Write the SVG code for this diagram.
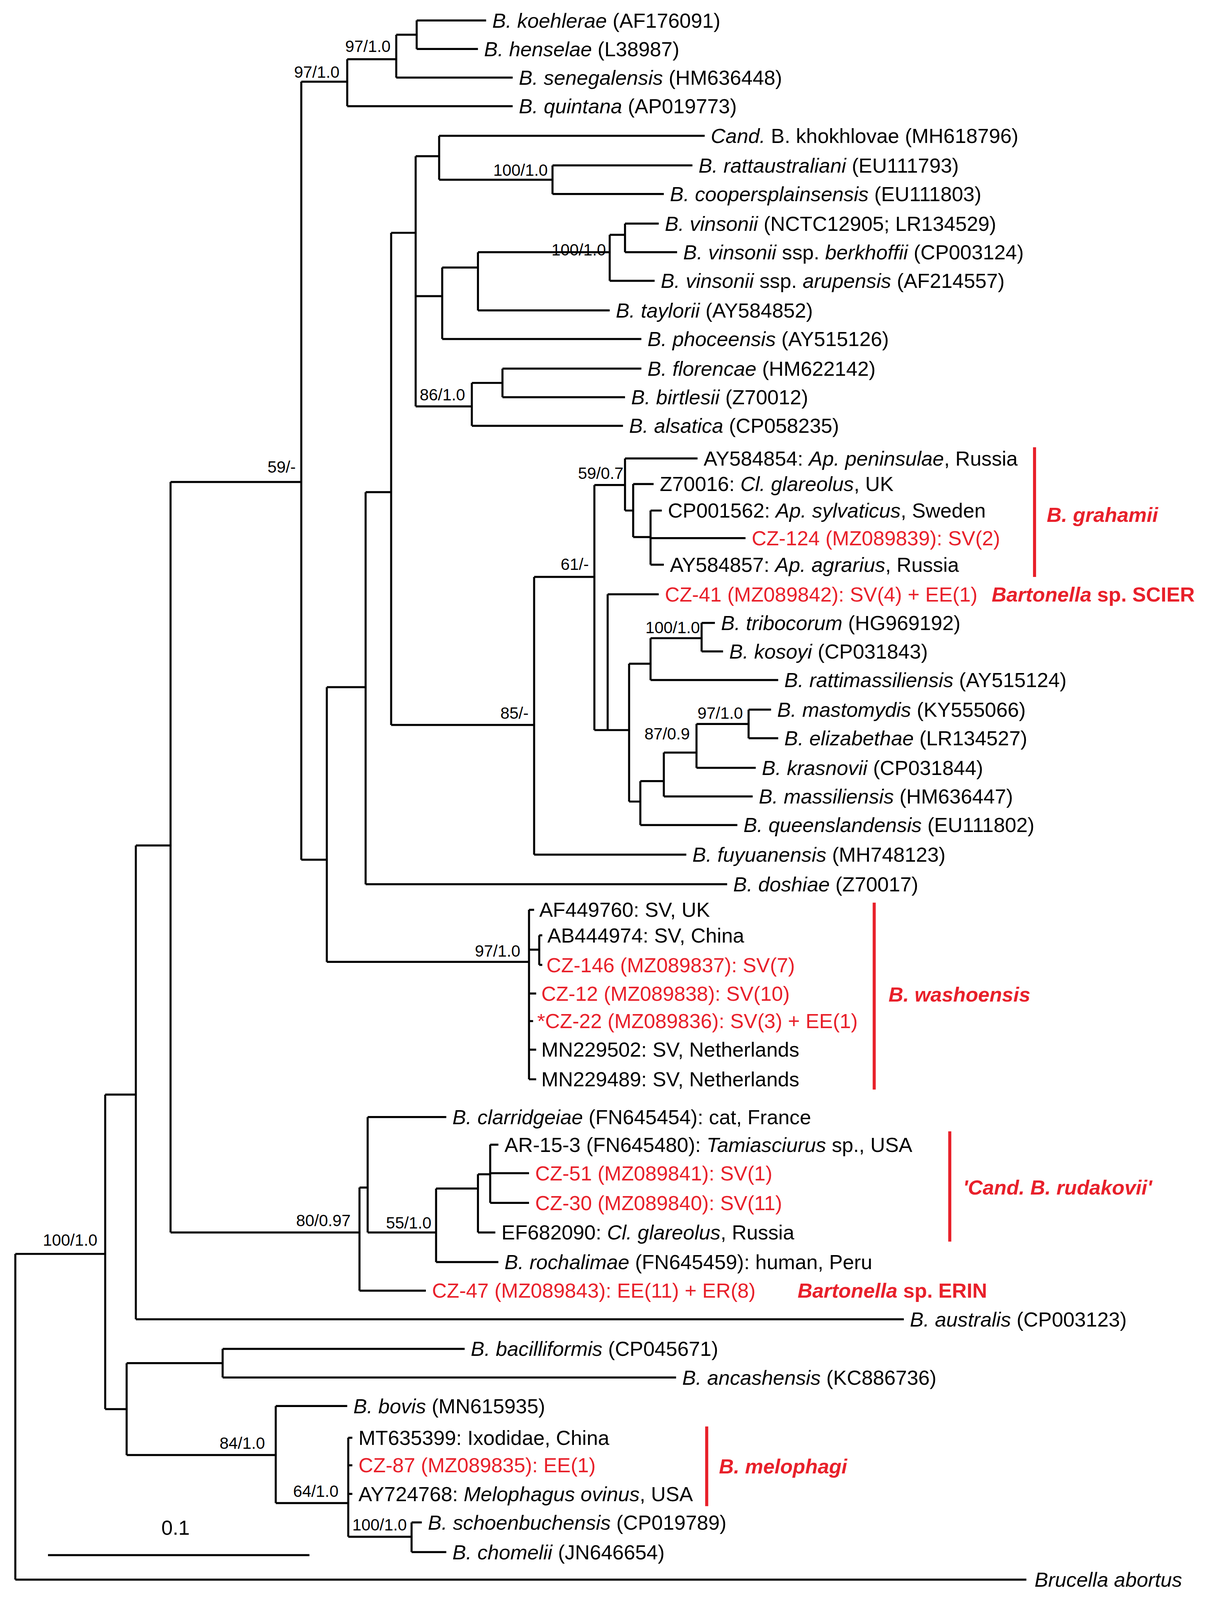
<svg xmlns="http://www.w3.org/2000/svg" width="3115" height="4130" viewBox="0 0 3115 4130">
<style>
text{font-family:"Liberation Sans",Arial,sans-serif;font-size:20px;fill:#000}
.i{font-style:italic}
.r{fill:#e8202a}
.b{font-weight:bold;fill:#e8202a}
.s{font-size:16px}
#conn path{stroke:#000;stroke-width:2;fill:none}
.bar{stroke:#e8202a;stroke-width:3}
</style>
<rect width="3115" height="4130" fill="#fff"/>
<g transform="scale(2.614)">
<g id="conn">
<path d="M15,1547H1005M15,1228V1547M15,1228H103M103,1072V1380M103,1072H133M103,1380H124
M133,828V1292M133,828H167M133,1292H885
M167,472V1207M167,472H295M167,1207H352
M295,80V842M295,80H340M295,842H320
M340,58V104M340,58H388M340,104H502M388,34V76M388,34H408M388,76H502M408,20V48M408,20H476M408,48H468
M320,673V942M320,673H358M320,942H518
M358,482V866M358,482H383M358,866H712
M383,228V710M383,228H407M383,710H523
M407,153V398M407,153H430M407,290H433M407,398H462
M430,133V176M430,133H690M430,176H541M541,162V190M541,162H678M541,190H650
M433,262V332M433,262H468M433,332H628M468,247V304M468,247H597M468,304H597M597,230V275M597,230H612M597,275H641M612,219V247M612,219H645M612,247H663
M462,375V417M462,375H492M462,417H610M492,361V389M492,361H628M492,389H612
M523,565V837M523,565H582M523,837H672
M582,475V715M582,475H612M582,715H595
M612,449V500M612,449H683M612,500H620M620,474V526M620,474H640M620,526H637M637,500V553M637,500H648M637,527H730M637,553H650
M595,582V715M595,582H645M595,715H616
M616,650V785M616,650H637M616,785H627
M637,625V666M637,625H687M637,666H762M687,610V638M687,610H700M687,638H708
M627,765V808M627,765H650M627,808H722M650,737V780M650,737H682M650,780H737M682,709V752M682,709H733M682,752H740M733,695V723M733,695H755M733,723H762
M518,891V1057M518,891H523M518,930H528M528,916V945M528,916H531M528,945H531M518,973H525M518,1000H522M518,1028H525M518,1057H525
M352,1163V1264M352,1163H360M352,1264H417
M360,1094V1207M360,1094H437M360,1207H427
M427,1164V1236M427,1164H468M427,1236H488
M468,1150V1207M468,1150H480M468,1207H485M480,1121V1178M480,1121H488M480,1149H518M480,1178H518
M124,1335V1425M124,1335H218M124,1425H270
M218,1321V1349M218,1321H455M218,1349H662
M270,1377V1472M270,1377H340M270,1472H341
M341,1408V1505M341,1408H345M341,1435H345M341,1463H345M341,1505H403
M403,1491V1520M403,1491H413M403,1520H437
M47,1523H303"/>
<line class="bar" x1="1013" y1="438" x2="1013" y2="565"/>
<line class="bar" x1="856" y1="884" x2="856" y2="1067"/>
<line class="bar" x1="930" y1="1108" x2="930" y2="1216"/>
<line class="bar" x1="692" y1="1397" x2="692" y2="1475"/>
</g>
<g id="labels">
<text x="482" y="27"><tspan class="i">B. koehlerae</tspan> (AF176091)</text>
<text x="474" y="55"><tspan class="i">B. henselae</tspan> (L38987)</text>
<text x="508" y="83"><tspan class="i">B. senegalensis</tspan> (HM636448)</text>
<text x="508" y="111"><tspan class="i">B. quintana</tspan> (AP019773)</text>
<text x="696" y="140"><tspan class="i">Cand.</tspan> B. khokhlovae (MH618796)</text>
<text x="684" y="169"><tspan class="i">B. rattaustraliani</tspan> (EU111793)</text>
<text x="656" y="197"><tspan class="i">B. coopersplainsensis</tspan> (EU111803)</text>
<text x="651" y="226"><tspan class="i">B. vinsonii</tspan> (NCTC12905; LR134529)</text>
<text x="669" y="254"><tspan class="i">B. vinsonii</tspan> ssp. <tspan class="i">berkhoffii</tspan> (CP003124)</text>
<text x="647" y="282"><tspan class="i">B. vinsonii</tspan> ssp. <tspan class="i">arupensis</tspan> (AF214557)</text>
<text x="603" y="311"><tspan class="i">B. taylorii</tspan> (AY584852)</text>
<text x="634" y="339"><tspan class="i">B. phoceensis</tspan> (AY515126)</text>
<text x="634" y="368"><tspan class="i">B. florencae</tspan> (HM622142)</text>
<text x="618" y="396"><tspan class="i">B. birtlesii</tspan> (Z70012)</text>
<text x="616" y="424"><tspan class="i">B. alsatica</tspan> (CP058235)</text>
<text x="689" y="456">AY584854: <tspan class="i">Ap. peninsulae</tspan>, Russia</text>
<text x="646" y="481">Z70016: <tspan class="i">Cl. glareolus</tspan>, UK</text>
<text x="654" y="507">CP001562: <tspan class="i">Ap. sylvaticus</tspan>, Sweden</text>
<text x="736" y="534" class="r">CZ-124 (MZ089839): SV(2)</text>
<text x="656" y="560">AY584857: <tspan class="i">Ap. agrarius</tspan>, Russia</text>
<text x="651" y="589" class="r">CZ-41 (MZ089842): SV(4) + EE(1)</text>
<text x="706" y="617"><tspan class="i">B. tribocorum</tspan> (HG969192)</text>
<text x="714" y="645"><tspan class="i">B. kosoyi</tspan> (CP031843)</text>
<text x="768" y="673"><tspan class="i">B. rattimassiliensis</tspan> (AY515124)</text>
<text x="761" y="702"><tspan class="i">B. mastomydis</tspan> (KY555066)</text>
<text x="768" y="730"><tspan class="i">B. elizabethae</tspan> (LR134527)</text>
<text x="746" y="759"><tspan class="i">B. krasnovii</tspan> (CP031844)</text>
<text x="743" y="787"><tspan class="i">B. massiliensis</tspan> (HM636447)</text>
<text x="728" y="815"><tspan class="i">B. queenslandensis</tspan> (EU111802)</text>
<text x="678" y="844"><tspan class="i">B. fuyuanensis</tspan> (MH748123)</text>
<text x="718" y="873"><tspan class="i">B. doshiae</tspan> (Z70017)</text>
<text x="528" y="898">AF449760: SV, UK</text>
<text x="536" y="923">AB444974: SV, China</text>
<text x="535" y="952" class="r">CZ-146 (MZ089837): SV(7)</text>
<text x="530" y="980" class="r">CZ-12 (MZ089838): SV(10)</text>
<text x="526" y="1007" class="r">*CZ-22 (MZ089836): SV(3) + EE(1)</text>
<text x="530" y="1035">MN229502: SV, Netherlands</text>
<text x="530" y="1064">MN229489: SV, Netherlands</text>
<text x="443" y="1101"><tspan class="i">B. clarridgeiae</tspan> (FN645454): cat, France</text>
<text x="494" y="1128">AR-15-3 (FN645480): <tspan class="i">Tamiasciurus</tspan> sp., USA</text>
<text x="524" y="1156" class="r">CZ-51 (MZ089841): SV(1)</text>
<text x="524" y="1185" class="r">CZ-30 (MZ089840): SV(11)</text>
<text x="491" y="1214">EF682090: <tspan class="i">Cl. glareolus</tspan>, Russia</text>
<text x="494" y="1243"><tspan class="i">B. rochalimae</tspan> (FN645459): human, Peru</text>
<text x="423" y="1271" class="r">CZ-47 (MZ089843): EE(11) + ER(8)</text>
<text x="891" y="1299"><tspan class="i">B. australis</tspan> (CP003123)</text>
<text x="461" y="1328"><tspan class="i">B. bacilliformis</tspan> (CP045671)</text>
<text x="668" y="1356"><tspan class="i">B. ancashensis</tspan> (KC886736)</text>
<text x="346" y="1384"><tspan class="i">B. bovis</tspan> (MN615935)</text>
<text x="351" y="1415">MT635399: Ixodidae, China</text>
<text x="351" y="1442" class="r">CZ-87 (MZ089835): EE(1)</text>
<text x="351" y="1470">AY724768: <tspan class="i">Melophagus ovinus</tspan>, USA</text>
<text x="419" y="1498"><tspan class="i">B. schoenbuchensis</tspan> (CP019789)</text>
<text x="443" y="1527"><tspan class="i">B. chomelii</tspan> (JN646654)</text>
<text x="1013" y="1554" class="i">Brucella abortus</text>
<text x="158" y="1503">0.1</text>
</g>
<g id="support">
<text class="s" x="338" y="51">97/1.0</text>
<text class="s" x="288" y="76">97/1.0</text>
<text class="s" x="483" y="172">100/1.0</text>
<text class="s" x="540" y="250">100/1.0</text>
<text class="s" x="411" y="392">86/1.0</text>
<text class="s" x="262" y="463">59/-</text>
<text class="s" x="566" y="469">59/0.7</text>
<text class="s" x="549" y="558">61/-</text>
<text class="s" x="632" y="620">100/1.0</text>
<text class="s" x="683" y="704">97/1.0</text>
<text class="s" x="631" y="724">87/0.9</text>
<text class="s" x="490" y="704">85/-</text>
<text class="s" x="465" y="937">97/1.0</text>
<text class="s" x="378" y="1203">55/1.0</text>
<text class="s" x="290" y="1201">80/0.97</text>
<text class="s" x="42" y="1220">100/1.0</text>
<text class="s" x="215" y="1419">84/1.0</text>
<text class="s" x="287" y="1466">64/1.0</text>
<text class="s" x="345" y="1499">100/1.0</text>
</g>
<g id="clades">
<text class="b i" x="1025" y="511">B. grahamii</text>
<text class="b" x="971" y="589"><tspan class="i">Bartonella</tspan> sp. SCIER</text>
<text class="b i" x="870" y="981">B. washoensis</text>
<text class="b i" x="943" y="1170">'Cand. B. rudakovii'</text>
<text class="b" x="781" y="1271"><tspan class="i">Bartonella</tspan> sp. ERIN</text>
<text class="b i" x="704" y="1443">B. melophagi</text>
</g>
</g>
</svg>
